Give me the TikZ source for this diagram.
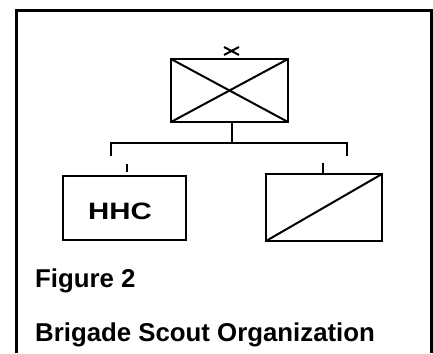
\documentclass[tikz,border=0pt]{standalone}
\usepackage{fontspec}
\setmainfont{Liberation Sans}
\begin{document}
\begin{tikzpicture}[x=1pt,y=-1pt,
  unitbox/.style={draw=black,line width=2pt,minimum width=#1,inner sep=0pt,outer sep=0pt,fill=none},
  conn/.style={draw=black,line width=1.8pt},
  frameline/.style={draw=black,line width=3pt},
  caption/.style={anchor=base west,inner sep=0pt,font=\fontsize{25.8}{30}\selectfont\bfseries}]
\useasboundingbox (0,0) rectangle (433,353);
\fill[white] (0,0) rectangle (433,353);
% frame
\draw[frameline] (16,353) -- (16,10.5) -- (431.5,10.5) -- (431.5,353);
% boxes
\node[unitbox=117pt,minimum height=63pt] (top) at (229.5,90.5) {};
\node[unitbox=123pt,minimum height=64pt] (hhcbox) at (124.5,208) {};
\node[unitbox=116pt,minimum height=67pt] (rbox) at (324,207.5) {};
\draw[line width=2pt] (top.north west) -- (top.south east);
\draw[line width=2pt] (top.south west) -- (top.north east);
\draw[line width=2pt] (rbox.south west) -- (rbox.north east);
% brigade symbol
\coordinate (xc) at (231.5,51);
\draw[line width=2pt] ([shift={(-7.5,-4)}]xc) -- ([shift={(7.5,4)}]xc);
\draw[line width=2pt] ([shift={(-7.5,4)}]xc) -- ([shift={(7.5,-4)}]xc);
% text
\node[anchor=base,inner sep=0pt,font=\fontsize{23.7}{28}\selectfont\bfseries] (hhc) at (120,219) {\scalebox{1.24}[1]{HHC}};
% connectors
\coordinate (bus) at (232,143);
\coordinate (busl) at (111,143);
\coordinate (busr) at (347,143);
\coordinate (dropl) at (111,156);
\coordinate (dropr) at (347,156);
\coordinate (tickl) at (127,164);
\coordinate (tickr) at (323,163);
\draw[conn] (top.south -| bus) -- (bus);
\draw[conn] (dropl) -- (busl) -- (busr) -- (dropr);
\draw[conn] (tickl) -- (tickl |- 0,172);
\draw[conn] (tickr) -- (tickr |- rbox.north);
% captions
\node[caption] (fig) at (35,287) {Figure 2};
\node[caption] (title) at (35,341) {Brigade Scout Organization};
\end{tikzpicture}
\end{document}
